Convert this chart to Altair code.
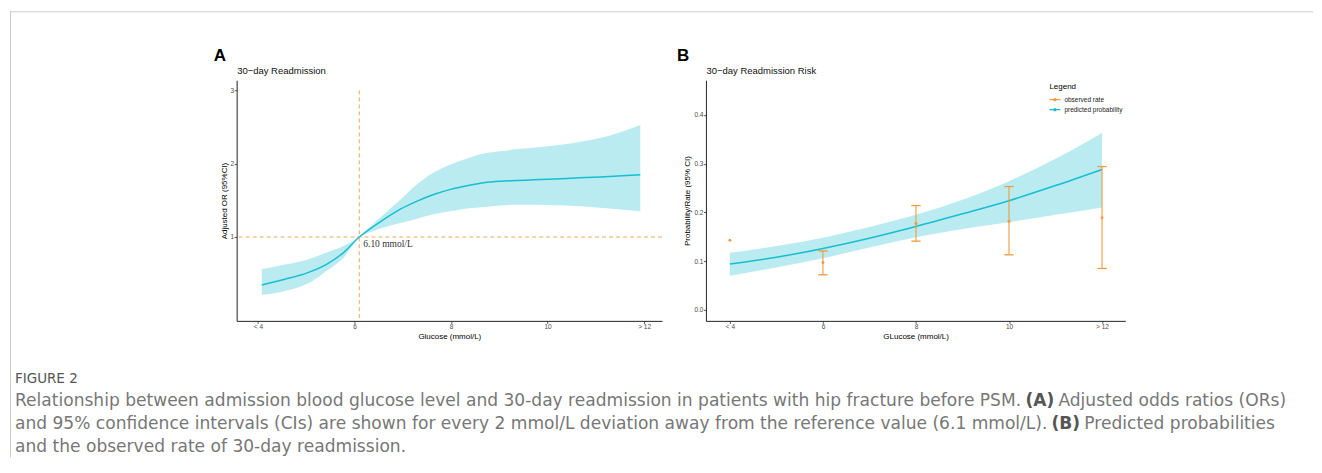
import altair as alt
import pandas as pd

FONT = "Liberation Sans"
CAPFONT = "DejaVu Sans"
TEAL = "#17BECF"
ORANGE = "#F39A3C"
DASH = "#F5A65B"

# ---------------- Panel A: adjusted OR curve ----------------
a_x = [4.08, 4.54, 5.02, 5.43, 5.78, 6.10, 6.26, 6.61, 6.95, 7.30, 7.64, 7.99,
       8.33, 8.68, 9.02, 9.37, 9.71, 10.40, 11.09, 11.92]
a_or = [0.345, 0.42, 0.51, 0.63, 0.79, 1.00, 1.08, 1.24, 1.38, 1.49, 1.58, 1.65,
        1.70, 1.74, 1.76, 1.77, 1.78, 1.80, 1.82, 1.85]
a_lo = [0.21, 0.26, 0.36, 0.54, 0.72, 1.00, 1.05, 1.13, 1.19, 1.25, 1.31, 1.35,
        1.39, 1.41, 1.43, 1.44, 1.44, 1.43, 1.40, 1.35]
a_hi = [0.56, 0.62, 0.69, 0.79, 0.88, 1.00, 1.10, 1.31, 1.51, 1.72, 1.88, 1.99,
        2.07, 2.14, 2.17, 2.20, 2.22, 2.27, 2.35, 2.53]
ref_glucose = 6.10
ref_or = 1.0
ref_label = "6.10 mmol/L"

# ---------------- Panel B: predicted probability + observed rate ----------------
b_x = [4, 5, 6, 7, 8, 9, 10, 11, 12]
b_p = [0.094, 0.108, 0.126, 0.147, 0.171, 0.197, 0.224, 0.255, 0.288]
b_lo = [0.070, 0.087, 0.106, 0.128, 0.149, 0.166, 0.180, 0.195, 0.210]
b_hi = [0.117, 0.131, 0.148, 0.170, 0.195, 0.226, 0.264, 0.310, 0.363]

obs_x = [4, 6, 8, 10, 12]
obs_rate = [0.143, 0.097, 0.177, 0.182, 0.189]
obs_lo = [None, 0.072, 0.141, 0.113, 0.085]
obs_hi = [None, 0.121, 0.214, 0.253, 0.294]

x_ticks = [4, 6, 8, 10, 12]
a_y_ticks = [1, 2, 3]
b_y_ticks = [0.0, 0.1, 0.2, 0.3, 0.4]
series = ["observed rate", "predicted probability"]

caption_head = "FIGURE 2"
cap1 = ["Relationship between admission blood glucose level and 30-day readmission in patients with hip fracture before PSM.",
        "(A)", "Adjusted odds ratios (ORs)"]
cap2 = ["and 95% confidence intervals (CIs) are shown for every 2 mmol/L deviation away from the reference value (6.1 mmol/L).",
        "(B)", "Predicted probabilities"]
cap3 = "and the observed rate of 30-day readmission."

xlab = "datum.value == 4 ? '< 4' : (datum.value == 12 ? '> 12' : datum.label)"


def txt(s, x, y, size=10, color="#000", weight="normal", font=FONT, align="left"):
    return alt.Chart(pd.DataFrame({"t": [s]})).mark_text(
        align=align, baseline="middle", fontSize=size, color=color,
        fontWeight=weight, font=font
    ).encode(x=alt.value(x), y=alt.value(y), text="t:N")


# ---- Panel A ----
xsA = alt.Scale(domain=[3.56, 12.37], nice=False, zero=False)
ysA = alt.Scale(domain=[-0.145, 3.14], nice=False, zero=False)
axA_x = alt.Axis(values=x_ticks, labelExpr=xlab, title="Glucose (mmol/L)")
axA_y = alt.Axis(values=a_y_ticks, title="Adjusted OR (95%CI)")

dfa = pd.DataFrame({"x": a_x, "or": a_or, "lo": a_lo, "hi": a_hi})
XA = alt.X("x:Q", scale=xsA, axis=axA_x)

bandA = alt.Chart(dfa).mark_area(color=TEAL, opacity=0.3, interpolate="monotone").encode(
    x=XA, y=alt.Y("lo:Q", scale=ysA, axis=axA_y), y2="hi:Q")
lineA = alt.Chart(dfa).mark_line(color=TEAL, strokeWidth=1.5, interpolate="monotone").encode(
    x=XA, y=alt.Y("or:Q", scale=ysA, axis=axA_y))
hrule = alt.Chart(pd.DataFrame({"y": [ref_or]})).mark_rule(
    color=DASH, strokeDash=[4, 3], strokeWidth=1).encode(
    y=alt.Y("y:Q", scale=ysA, axis=axA_y))
vrule = alt.Chart(pd.DataFrame({"x": [ref_glucose], "y": [3.0], "y2": [-0.145]})).mark_rule(
    color=DASH, strokeDash=[4, 3], strokeWidth=1).encode(
    x=XA, y=alt.Y("y:Q", scale=ysA, axis=axA_y), y2="y2:Q")
reftext = alt.Chart(pd.DataFrame({"x": [ref_glucose], "y": [ref_or], "t": [ref_label]})).mark_text(
    align="left", baseline="middle", dx=4, dy=7, font="Liberation Serif", fontSize=9.5,
    color="#333").encode(x=XA, y=alt.Y("y:Q", scale=ysA, axis=axA_y), text="t:N")

CS = 17.1
deco = [
    txt("A", -23, -24, size=17, weight="bold"),
    txt("30\u2212day Readmission", 0.5, -9, size=9.5, color="#111"),
    txt(caption_head, -222, 299, size=13.5, color="#555", font=CAPFONT),
    txt(cap1[0], -222, 321, size=CS, color="#777", font=CAPFONT),
    txt(cap1[1], 790, 321, size=CS, color="#555", weight="bold", font=CAPFONT),
    txt(cap1[2], 823, 321, size=CS, color="#777", font=CAPFONT),
    txt(cap2[0], -222, 344, size=CS, color="#777", font=CAPFONT),
    txt(cap2[1], 816, 344, size=CS, color="#555", weight="bold", font=CAPFONT),
    txt(cap2[2], 849, 344, size=CS, color="#777", font=CAPFONT),
    txt(cap3, -222, 367, size=CS, color="#777", font=CAPFONT),
]
border_left = alt.Chart(pd.DataFrame({"k": [0]})).mark_rule(color="#cccccc", strokeWidth=1).encode(
    x=alt.value(-226.5), y=alt.value(-69), y2=alt.value(378))
border_top = alt.Chart(pd.DataFrame({"k": [0]})).mark_rule(color="#cccccc", strokeWidth=1).encode(
    x=alt.value(-227), x2=alt.value(1078), y=alt.value(-68.5))

chartA = alt.layer(border_left, border_top, bandA, hrule, vrule, lineA, reftext, *deco).properties(
    width=426, height=241)

# ---- Panel B ----
xsB = alt.Scale(domain=[3.485, 12.5], nice=False, zero=False)
ysB = alt.Scale(domain=[-0.0225, 0.471], nice=False, zero=False)
axB_x = alt.Axis(values=x_ticks, labelExpr=xlab, title="GLucose (mmol/L)")
axB_y = alt.Axis(values=b_y_ticks, format=".1f", title="Probability/Rate (95% CI)")
XB = alt.X("x:Q", scale=xsB, axis=axB_x)

dfb = pd.DataFrame({"x": b_x, "p": b_p, "lo": b_lo, "hi": b_hi})
dfo = pd.DataFrame({"x": obs_x, "rate": obs_rate, "lo": obs_lo, "hi": obs_hi, "s": series[0]})
dfe = dfo.dropna()

bandB = alt.Chart(dfb).mark_area(color=TEAL, opacity=0.3, interpolate="monotone").encode(
    x=XB, y=alt.Y("lo:Q", scale=ysB, axis=axB_y), y2="hi:Q")
lineB = alt.Chart(dfb).mark_line(color=TEAL, strokeWidth=1.5, interpolate="monotone").encode(
    x=XB, y=alt.Y("p:Q", scale=ysB, axis=axB_y))
ebar = alt.Chart(dfe).mark_rule(color=ORANGE, strokeWidth=1.1).encode(
    x=XB, y=alt.Y("lo:Q", scale=ysB, axis=axB_y), y2="hi:Q")
capHi = alt.Chart(dfe).transform_calculate(xa="datum.x - 0.1", xb="datum.x + 0.1").mark_rule(
    color=ORANGE, strokeWidth=1.3).encode(
    x=alt.X("xa:Q", scale=xsB, axis=axB_x), x2="xb:Q", y=alt.Y("hi:Q", scale=ysB, axis=axB_y))
capLo = alt.Chart(dfe).transform_calculate(xa="datum.x - 0.1", xb="datum.x + 0.1").mark_rule(
    color=ORANGE, strokeWidth=1.3).encode(
    x=alt.X("xa:Q", scale=xsB, axis=axB_x), x2="xb:Q", y=alt.Y("lo:Q", scale=ysB, axis=axB_y))

legend_symbol = ("M-1,-0.12L1,-0.12L1,0.12L-1,0.12Z"
                 "M-0.3,0A0.3,0.3,0,1,1,0.3,0A0.3,0.3,0,1,1,-0.3,0Z")
pts = alt.Chart(dfo).mark_point(filled=True, size=9, opacity=1).encode(
    x=XB, y=alt.Y("rate:Q", scale=ysB, axis=axB_y),
    color=alt.Color("s:N", scale=alt.Scale(domain=series, range=[ORANGE, TEAL]),
                    legend=alt.Legend(title="Legend", orient="none", legendX=814, legendY=3,
                                      symbolType=legend_symbol, symbolSize=121,
                                      symbolStrokeWidth=0, symbolOpacity=1,
                                      labelFont=FONT, labelFontSize=6.5, labelColor="#222",
                                      titleFont=FONT, titleFontSize=8, titleFontWeight="normal",
                                      titleColor="#000", titlePadding=3, rowPadding=1,
                                      labelOffset=4)))

decoB = [
    txt("B", -29, -24, size=17, weight="bold"),
    txt("30\u2212day Readmission Risk", 0.5, -9, size=9.5, color="#111"),
]

chartB = alt.layer(bandB, lineB, ebar, capHi, capLo, pts, *decoB).properties(width=420, height=241)

chart = alt.hconcat(chartA, chartB, spacing=44, bounds="flush").properties(
    padding={"left": 1, "top": 2, "right": 0, "bottom": 0}
).configure_view(stroke=None).configure_axis(
    grid=False, domainColor="#222", domainWidth=1, tickColor="#333", tickSize=2.5,
    tickWidth=0.8, labelColor="#4d4d4d", labelFont=FONT, labelFontSize=6.5, labelPadding=0.5,
    titleFont=FONT, titleFontSize=8, titleFontWeight="normal", titleColor="#000",
    titlePadding=2
)

chart.save("out.html", embed_options={"renderer": "svg", "actions": False})
